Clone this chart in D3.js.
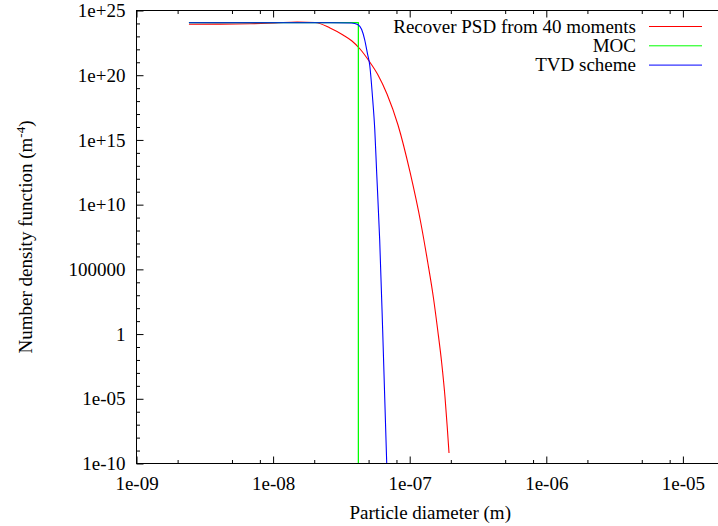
<!DOCTYPE html>
<html>
<head>
<meta charset="utf-8">
<script src="https://cdn.jsdelivr.net/npm/d3@7"></script>
<style>
    body { margin: 0; background: #fff; }
    text { font-family: "Liberation Serif", "DejaVu Serif", serif; font-size: 19px; fill: #000; }
</style>
</head>
<body>
<div id="grafica"></div>
<script>
// recovered PSD from 40 moments
var redDiam = [2.42e-9, 4.09e-9, 6.77e-9, 1.03e-8, 1.50e-8, 2.03e-8, 2.61e-8, 3.25e-8, 3.78e-8, 4.33e-8, 5.04e-8, 5.86e-8, 6.82e-8, 8.21e-8, 1.005e-7, 1.21e-7, 1.354e-7, 1.489e-7, 1.603e-7, 1.715e-7, 1.813e-7, 1.885e-7, 1.94e-7];
var redValue = [8.7e23, 8.8e23, 9.4e23, 1.08e24, 1.29e24, 1.18e24, 4.45e23, 1.28e23, 4.4e22, 1.06e22, 1.25e21, 1.04e20, 3.54e18, 1.42e16, 3.33e12, 3.2e8, 3.7e5, 7.33e2, 2.07, 5.82e-3, 1.37e-5, 5.5e-8, 6.47e-10];

// method of characteristics
var mocDiam = [2.42e-9, 4.21e-8, 4.21e-8];
var mocValue = [1.14e24, 1.14e24, 1e-10];

// TVD scheme
var tvdDiam = [2.42e-9, 2.59e-8, 3.76e-8, 4.16e-8, 4.45e-8, 4.68e-8, 4.92e-8, 5.09e-8, 5.36e-8, 5.55e-8, 5.73e-8, 6.03e-8, 6.34e-8, 6.79e-8];
var tvdValue = [1.14e24, 1.14e24, 1.08e24, 8.3e23, 3.4e23, 5.7e22, 4.0e21, 6.7e20, 1.3e18, 6.3e15, 3.0e12, 1.9e7, 2.1, 1e-10];

var xMajor = [1e-9, 1e-8, 1e-7, 1e-6, 1e-5];
var xLabels = ["1e-09", "1e-08", "1e-07", "1e-06", "1e-05"];
var yMajor = [1e25, 1e20, 1e15, 1e10, 1e5, 1, 1e-5, 1e-10];
var yLabels = ["1e+25", "1e+20", "1e+15", "1e+10", "100000", "1", "1e-05", "1e-10"];

var seriesNames = ["Recover PSD from 40 moments", "MOC", "TVD scheme"];
var seriesColors = ["#ff0000", "#00ff00", "#0000ff"];

function zip(a, b) {
    return a.map(function (v, i) { return [v, b[i]]; });
}

var div = d3.select("#grafica");
div.html('<svg width="718" height="526"></svg>');
var svg = d3.select("#grafica>svg");

var mLeft = 136.5, mTop = 10.5, mBottom = 463.5;
var mRight = mLeft + Math.log10(2e-5 / 1e-9) * 136.6;

var x = d3.scaleLog().domain([1e-9, 2e-5]).range([mLeft, mRight]);
var y = d3.scaleLog().domain([1e-10, 1e25]).range([mBottom, mTop]);

// minor ticks: 2, 5, 8 on x, every decade on y
var xMinor = [];
[1e-9, 1e-8, 1e-7, 1e-6, 1e-5].forEach(function (d) {
    [2, 5, 8].forEach(function (m) {
        if (d * m < 2e-5) xMinor.push(d * m);
    });
});
var yMinor = d3.range(-10, 26).filter(function (e) { return e % 5 !== 0; }).map(function (e) { return Math.pow(10, e); });

function noDomain(g) {
    g.select(".domain").remove();
    g.selectAll(".tick line").attr("stroke", "#000");
}

svg.append("g")
    .attr("transform", "translate(0," + mBottom + ")")
    .call(d3.axisBottom(x).tickValues(xMajor).tickSize(-7).tickPadding(13)
        .tickFormat(function (d, i) { return xLabels[i]; }))
    .call(noDomain);

svg.append("g")
    .attr("transform", "translate(0," + mBottom + ")")
    .call(d3.axisBottom(x).tickValues(xMinor).tickSize(-3.5).tickFormat(""))
    .call(noDomain);

svg.append("g")
    .attr("transform", "translate(0," + mTop + ")")
    .call(d3.axisTop(x).tickValues(xMajor).tickSize(-7).tickFormat(""))
    .call(noDomain);

svg.append("g")
    .attr("transform", "translate(0," + mTop + ")")
    .call(d3.axisTop(x).tickValues(xMinor).tickSize(-3.5).tickFormat(""))
    .call(noDomain);

svg.append("g")
    .attr("transform", "translate(" + mLeft + ",0)")
    .call(d3.axisLeft(y).tickValues(yMajor).tickSize(-7).tickPadding(11)
        .tickFormat(function (d, i) { return yLabels[i]; }))
    .call(noDomain);

svg.append("g")
    .attr("transform", "translate(" + mLeft + ",0)")
    .call(d3.axisLeft(y).tickValues(yMinor).tickSize(-3.5).tickFormat(""))
    .call(noDomain);

svg.selectAll("g").attr("font-family", null).attr("font-size", null);

svg.append("defs").append("clipPath")
    .attr("id", "area")
    .append("rect")
    .attr("x", mLeft).attr("y", mTop)
    .attr("width", mRight - mLeft).attr("height", mBottom - mTop);

var line = d3.line()
    .x(function (d) { return x(d[0]); })
    .y(function (d) { return y(d[1]); });

var datos = [zip(redDiam, redValue), zip(mocDiam, mocValue), zip(tvdDiam, tvdValue)];
var curvas = [d3.curveMonotoneX, d3.curveLinear, d3.curveMonotoneX];

var plot = svg.append("g").attr("clip-path", "url(#area)");
datos.forEach(function (serie, i) {
    plot.append("path")
        .datum(serie)
        .attr("fill", "none")
        .attr("stroke", seriesColors[i])
        .attr("stroke-width", i === 1 ? 1.3 : 1.1)
        .attr("stroke-linejoin", "round")
        .attr("d", line.curve(curvas[i]));
});

// frame
svg.append("rect")
    .attr("x", mLeft).attr("y", mTop)
    .attr("width", mRight - mLeft).attr("height", mBottom - mTop)
    .attr("fill", "none")
    .attr("stroke", "#000")
    .attr("stroke-width", 1);

// legend
var legend = svg.append("g");
seriesNames.forEach(function (name, i) {
    var ly = 26.5 + i * 19.3;
    legend.append("text")
        .attr("x", 636)
        .attr("y", ly + 6)
        .attr("text-anchor", "end")
        .text(name);
    legend.append("line")
        .attr("x1", 649).attr("x2", 702)
        .attr("y1", ly).attr("y2", ly)
        .attr("stroke", seriesColors[i])
        .attr("stroke-width", 1);
});

// axis titles
svg.append("text")
    .attr("x", (mLeft + mRight) / 2)
    .attr("y", 519)
    .attr("text-anchor", "middle")
    .text("Particle diameter (m)");

var yt = svg.append("text")
    .attr("transform", "translate(32,237) rotate(-90)")
    .attr("text-anchor", "middle");
yt.append("tspan").text("Number density function (m");
yt.append("tspan").attr("dy", -7).attr("font-size", 13).text("-4");
yt.append("tspan").attr("dy", 7).text(")");
</script>
</body>
</html>
